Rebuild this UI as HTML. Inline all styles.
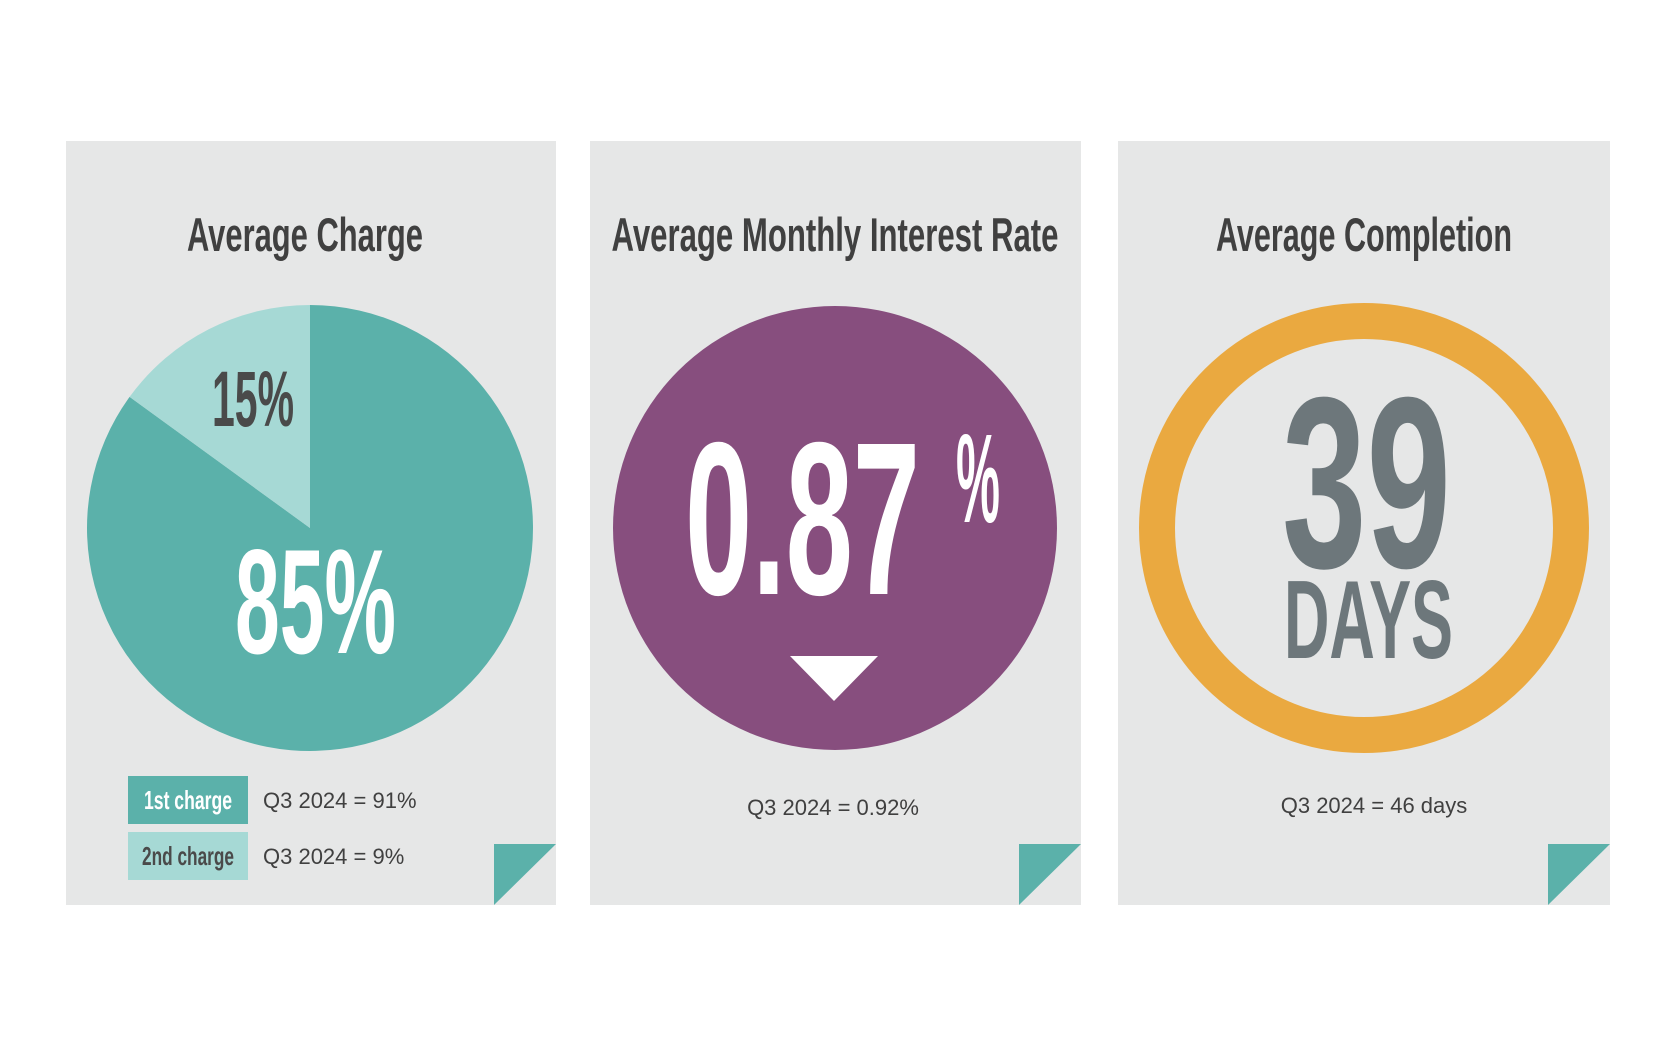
<!DOCTYPE html>
<html><head><meta charset="utf-8"><style>
html,body{margin:0;padding:0;background:#fff;width:1678px;height:1056px;overflow:hidden}
svg text{font-family:"Liberation Sans",sans-serif}
</style></head><body>
<svg width="1678" height="1056" viewBox="0 0 1678 1056">
<!-- cards -->
<g>
<rect x="66" y="141" width="490" height="764" fill="#e6e7e7"/>
<polygon points="494,844 556,844 494,905" fill="#5bb1aa"/>
<text x="305" y="251" font-size="47" font-weight="bold" fill="#404040" text-anchor="middle" textLength="236" lengthAdjust="spacingAndGlyphs">Average Charge</text>
<g id="pie"></g>
<text x="212" y="426" font-size="79" font-weight="bold" fill="#4a4a4a" textLength="82" lengthAdjust="spacingAndGlyphs" id="lab2">15%</text>
<text x="235" y="653" font-size="149" font-weight="bold" fill="#fff" textLength="161" lengthAdjust="spacingAndGlyphs" id="lab1">85%</text>
<rect x="128" y="776" width="120" height="48" fill="#5bb1aa"/>
<text x="188" y="809" font-size="26" font-weight="bold" fill="#fff" text-anchor="middle" textLength="88" lengthAdjust="spacingAndGlyphs">1st charge</text>
<text x="263" y="808" font-size="22" fill="#404040">Q3 2024 = 91%</text>
<rect x="128" y="832" width="120" height="48" fill="#a6d9d5"/>
<text x="188" y="865" font-size="26" font-weight="bold" fill="#4a4a4a" text-anchor="middle" textLength="92" lengthAdjust="spacingAndGlyphs">2nd charge</text>
<text x="263" y="864" font-size="22" fill="#404040">Q3 2024 = 9%</text>
</g>
<g>
<rect x="590" y="141" width="491" height="764" fill="#e6e7e7"/>
<polygon points="1019,844 1081,844 1019,905" fill="#5bb1aa"/>
<text x="835" y="251" font-size="47" font-weight="bold" fill="#404040" text-anchor="middle" textLength="447" lengthAdjust="spacingAndGlyphs">Average Monthly Interest Rate</text>
<circle cx="835" cy="528" r="222" fill="#874e7e"/>
<text x="685" y="594" font-size="218" font-weight="bold" fill="#fff" textLength="235" lengthAdjust="spacingAndGlyphs">0.87</text>
<text x="956" y="522" font-size="126" font-weight="bold" fill="#fff" textLength="44" lengthAdjust="spacingAndGlyphs">%</text>
<polygon points="790,656 878,656 834,701" fill="#fff"/>
<text x="833" y="815" font-size="22" fill="#404040" text-anchor="middle">Q3 2024 = 0.92%</text>
</g>
<g>
<rect x="1118" y="141" width="492" height="764" fill="#e6e7e7"/>
<polygon points="1548,844 1610,844 1548,905" fill="#5bb1aa"/>
<text x="1364" y="251" font-size="47" font-weight="bold" fill="#404040" text-anchor="middle" textLength="296" lengthAdjust="spacingAndGlyphs">Average Completion</text>
<circle cx="1364" cy="528" r="207" fill="none" stroke="#eaa940" stroke-width="36"/>
<text x="1282" y="567" font-size="244" font-weight="bold" fill="#6d777b" textLength="169" lengthAdjust="spacingAndGlyphs">39</text>
<text x="1284" y="658" font-size="111" font-weight="bold" fill="#6d777b" textLength="169" lengthAdjust="spacingAndGlyphs">DAYS</text>
<text x="1374" y="813" font-size="22" fill="#404040" text-anchor="middle">Q3 2024 = 46 days</text>
</g>
</svg>
<script>
const categories = ["1st charge", "2nd charge"];
const shares = [85, 15];
const colors = ["#5bb1aa", "#a6d9d5"];
const cx = 310, cy = 528, r = 223;
const g = document.getElementById('pie');
const total = shares.reduce((a,b)=>a+b,0);
// second slice goes counter-clockwise from 12 o'clock, first fills the rest
let startDeg = -360 * shares[1] / total;
shares.forEach((v, i) => {
  const order = i === 0 ? 0 : 1;
  let a0, a1;
  if (i === 1) { a0 = -360 * v / total; a1 = 0; }
  else { a0 = 0; a1 = 360 * v / total; }
  const pt = d => { const t = (d - 90) * Math.PI / 180; return [cx + r * Math.cos(t), cy + r * Math.sin(t)]; };
  const p0 = pt(a0), p1 = pt(a1);
  const large = (a1 - a0) > 180 ? 1 : 0;
  const path = document.createElementNS('http://www.w3.org/2000/svg', 'path');
  path.setAttribute('d', `M${cx},${cy} L${p0[0]},${p0[1]} A${r},${r} 0 ${large} 1 ${p1[0]},${p1[1]} Z`);
  path.setAttribute('fill', colors[i]);
  
  
  g.appendChild(path);
});
document.getElementById('lab1').textContent = shares[0] + '%';
document.getElementById('lab2').textContent = shares[1] + '%';
</script>
</body></html>
